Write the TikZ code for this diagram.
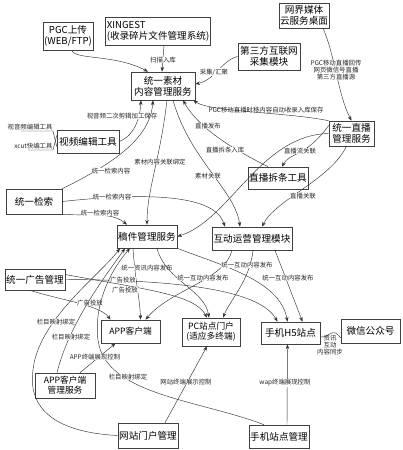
\documentclass[tikz,border=0pt]{standalone}
\usepackage{fontspec}
\setmainfont{Noto Sans CJK SC}
\usetikzlibrary{arrows.meta,calc}
\begin{document}
\begin{tikzpicture}[x=1pt,y=-1pt,
  box/.style={draw=black!75,line width=0.6pt,fill=white,align=center,inner sep=1pt,
    font=\fontsize{9.6}{11.2}\selectfont},
  lbl/.style={font=\fontsize{6.4}{7}\selectfont,fill=white,inner sep=0.3pt,align=center,text=black!85},
  lblt/.style={font=\fontsize{6.4}{7}\selectfont,inner sep=0.3pt,align=center,text=black!85},
  conn/.style={draw=black!80,line width=0.45pt},
  arr/.style={conn,-{Stealth[length=4.8pt,width=3.6pt]}}]
\useasboundingbox (0,0) rectangle (403,450);
% ---------- nodes ----------
\node[box,minimum width=47pt,minimum height=28pt] (pgc) at (68,36) {PGC上传\\(WEB/FTP)};
\node[box,minimum width=97pt,minimum height=28pt,align=left] (xin) at (158,31) {XINGEST\\(收录碎片文件管理系统)};
\node[box,minimum width=50pt,minimum height=25pt] (wj) at (304,15.5) {网界媒体\\云服务桌面};
\node[box,minimum width=62pt,minimum height=27pt] (dsf) at (269,56.5) {第三方互联网\\采集模块};
\node[box,minimum width=64pt,minimum height=28pt] (sc) at (163,86) {统一素材\\内容管理服务};
\node[box,minimum width=45pt,minimum height=25pt] (zb) at (351.5,133.5) {统一直播\\管理服务};
\node[box,minimum width=62pt,minimum height=23pt] (spbj) at (88,141.5) {视频编辑工具};
\node[box,minimum width=58pt,minimum height=22pt] (cta) at (278,178) {直播拆条工具};
\node[box,minimum width=56pt,minimum height=25pt] (js) at (34,201.5) {统一检索};
\node[box,minimum width=60pt,minimum height=23pt] (gj) at (147,236.5) {稿件管理服务};
\node[box,minimum width=80pt,minimum height=23pt] (hd) at (252,238.5) {互动运营管理模块};
\node[box,minimum width=58pt,minimum height=21pt] (gg) at (35,279.5) {统一广告管理};
\node[box,minimum width=59pt,minimum height=23pt,font=\fontsize{8.7}{10}\selectfont] (app) at (130.5,331.5) {APP客户端};
\node[box,minimum width=58pt,minimum height=28pt,font=\fontsize{8.7}{10}\selectfont] (pc) at (211,332) {PC站点门户\\(适应多终端)};
\node[box,minimum width=59pt,minimum height=22pt] (h5) at (290.5,333) {手机H5站点};
\node[box,minimum width=59pt,minimum height=24pt] (wx) at (370.5,331) {微信公众号};
\node[box,minimum width=60pt,minimum height=25pt,font=\fontsize{8.7}{10}\selectfont] (appm) at (65,385.5) {APP客户端\\管理服务};
\node[box,minimum width=60pt,minimum height=25pt] (wzm) at (148,435.5) {网站门户管理};
\node[box,minimum width=60pt,minimum height=23pt] (sjm) at (279,436.5) {手机站点管理};
% side labels of video editing tool
\node[lblt,anchor=south east] (l1) at (53,131) {视音频编辑工具};
\node[lblt,anchor=south east] (l2) at (53,150) {xcut快编工具};
\draw[conn] ([xshift=14pt]l1.south west) -- (l1.south east) -- ([yshift=-5pt]spbj.west);
\draw[conn] ([xshift=14pt]l2.south west) -- (l2.south east) -- ([yshift=6pt]spbj.west);
% ---------- edges ----------
\draw[arr] ([xshift=4pt]pgc.south) .. controls (74,60) and (115,54) .. ([xshift=-15pt]sc.north);
\draw[arr] ([xshift=6pt]xin.south) -- ([xshift=-1pt]sc.north);
\node[lbl] at (163,60) {扫描入库};
\draw[arr] (dsf.west) .. controls (222,60) and (215,80) .. ([yshift=2pt]sc.east);
\node[lbl] at (214,72) {采集/汇聚};
\draw[arr] ([xshift=19pt]wj.south) .. controls (335,55) and (338,95) .. (zb.north);
\node[lbl] at (336,70) {PGC移动直播回传\\网页微信号直播\\第三方直播源};
\draw[arr] (zb.north west) .. controls (285,112) and (210,112) .. ([xshift=-2pt]sc.south east);
\node[lblt,anchor=south] at (266,114) {PGC移动直播时移内容自动收录入库保存};
\draw[arr] (spbj.east) .. controls (135,135) and (140,118) .. ([xshift=-22pt]sc.south);
\node[lbl] at (122,116) {视音频二次剪辑加工保存};
\draw[arr] (js.north east) .. controls (110,165) and (150,140) .. ([xshift=-10pt]sc.south);
\node[lbl] at (111,171) {统一检索内容};
\draw[arr] ([xshift=4pt]sc.south) .. controls (160,160) and (147,190) .. (gj.north);
\node[lbl] at (160,162) {素材内容关联绑定};
\draw[arr] ([xshift=10pt]sc.south) .. controls (190,160) and (235,190) .. ([xshift=-12pt]hd.north);
\node[lbl] at (208,176) {素材关联};
\draw[arr] ([xshift=-10pt]cta.north) .. controls (235,150) and (200,130) .. ([xshift=20pt]sc.south);
\node[lbl] at (225,150) {直播拆条入库};
\node[lbl] at (208,126) {直播发布};
\draw[arr] ([yshift=8pt]zb.west) .. controls (305,158) and (290,152) .. ([xshift=4pt]cta.north);
\node[lbl] at (300,151) {直播流关联};
\draw[arr] ([xshift=-5pt]zb.south) .. controls (330,180) and (275,200) .. ([xshift=10pt]hd.north);
\node[lbl] at (303,196) {直播关联};
\draw[arr] (zb.west) .. controls (260,135) and (230,220) .. (gj.east);
\draw[arr] (js.east) .. controls (150,192) and (215,195) .. ([xshift=-27pt]hd.north);
\node[lbl] at (112,197) {统一检索内容};
\draw[arr] (js.south east) .. controls (90,216) and (112,212) .. ([xshift=-20pt]gj.north);
\node[lbl] at (100,213) {统一检索内容};
% lower part
\draw[arr] ([xshift=-14pt]gj.south) .. controls (135,280) and (140,300) .. ([xshift=10pt]app.north);
\node[lbl] at (147,268) {统一资讯内容发布};
\draw[arr] ([xshift=10pt]gj.south) .. controls (165,280) and (205,290) .. ([xshift=-2pt]pc.north);
\draw[arr] (gj.south east) .. controls (220,265) and (280,280) .. ([xshift=-3pt]h5.north);
\draw[arr] ([xshift=-20pt]hd.south) .. controls (225,280) and (170,290) .. ([xshift=15pt]app.north);
\node[lbl] at (203,278) {统一互动内容发布};
\draw[arr] ([xshift=1pt]hd.south) .. controls (250,280) and (230,300) .. ([xshift=12pt]pc.north);
\node[lbl] at (247,265) {统一互动内容发布};
\draw[arr] ([xshift=23pt]hd.south) -- ([xshift=12pt]h5.north);
\node[lbl] at (288,278) {统一互动内容发布};
\draw[arr] (gg.east) .. controls (180,280) and (260,290) .. ([xshift=-13pt]h5.north);
\node[lbl] at (123,280) {广告投放};
\draw[arr] ([yshift=5pt]gg.east) .. controls (150,290) and (195,295) .. ([xshift=-4pt]pc.north);
\node[lbl] at (125,290) {广告投放};
\draw[arr] ([xshift=-5pt]gg.south) .. controls (60,300) and (100,305) .. ([xshift=-20pt]app.north);
\node[lbl] at (90,303) {广告投放};
\draw[arr] (wzm.west) .. controls (50,432) and (28,405) .. (33,370) .. controls (38,320) and (100,275) .. ([xshift=-27pt]gj.south);
\node[lbl] at (56,322) {栏目映射绑定};
\draw[arr] ([xshift=-8pt]appm.north) .. controls (70,320) and (110,270) .. ([xshift=-22pt]gj.south);
\node[lbl] at (71,337) {栏目映射绑定};
\draw[arr] ([xshift=-15pt]sjm.north) .. controls (200,400) and (105,395) .. (98,340) .. controls (93,300) and (115,265) .. ([xshift=-17pt]gj.south);
\node[lbl] at (128,377) {栏目映射绑定};
\draw[arr] ([xshift=15pt]appm.north) -- ([xshift=-15pt]app.south);
\node[lbl] at (95,357) {APP终端展现控制};
\draw[arr] ([xshift=17pt]wzm.north) -- ([xshift=-4pt]pc.south);
\node[lbl] at (186,382) {网站终端展示控制};
\draw[arr] ([xshift=8pt]sjm.north) -- ([xshift=-3pt]h5.south);
\node[lbl] at (285,383) {wap终端展现控制};
\draw[conn] ([yshift=-7pt]wx.west) .. controls (332,326) and (330,338) .. ([yshift=-4pt]h5.east);
\node[lblt] at (330,345) {资讯\\互动\\内容同步};
\end{tikzpicture}
\end{document}
